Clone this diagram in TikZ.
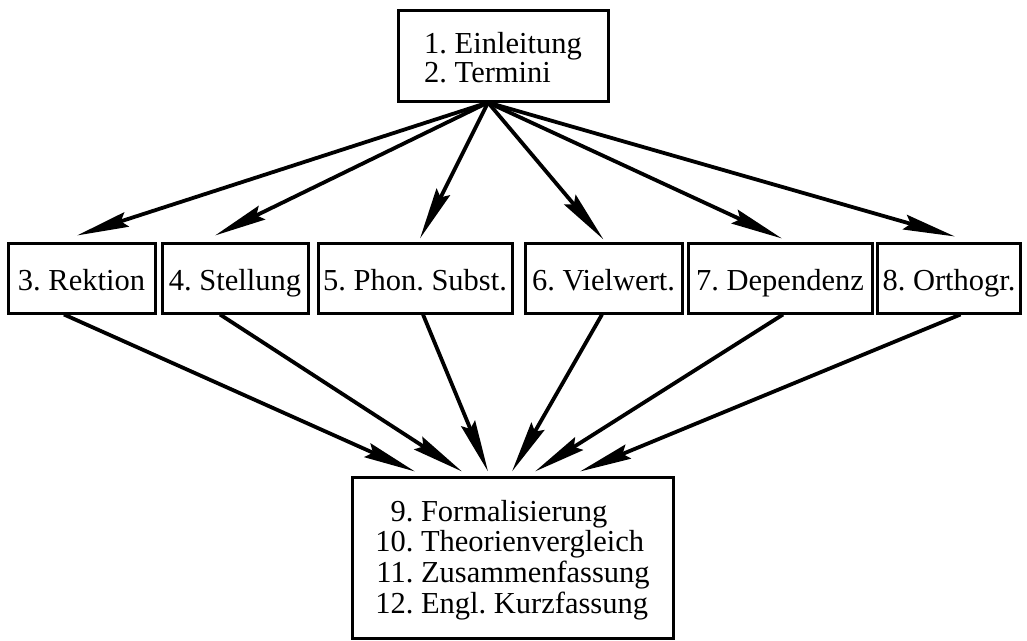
\documentclass[tikz,border=0pt]{standalone}
\usepackage{fontspec}
\setmainfont{Liberation Serif}
\usetikzlibrary{arrows.meta}
\frenchspacing
\begin{document}
\begin{tikzpicture}[x=1pt,y=-1pt,
  box/.style={draw=black,line width=3pt,rectangle,inner sep=0pt,
    font=\fontsize{30.5}{29}\selectfont\frenchspacing},
  midbox/.style={box,minimum height=70pt,text height=24pt,text depth=0pt},
  arr/.style={line width=3.8pt,-{Stealth[length=52pt,width=15pt,inset=6pt]}}]
\useasboundingbox (0,0) rectangle (1027,640);

\node[box,minimum width=210pt,minimum height=91pt,text height=53pt,text depth=0pt] (top) at (503,55.5)
  {\begin{tabular}[b]{@{}l@{}}1. Einleitung\\2. Termini\end{tabular}};

\node[midbox,minimum width=147pt] (b3) at (81.5,278) {3. Rektion};
\node[midbox,minimum width=146pt] (b4) at (235,278) {4. Stellung};
\node[midbox,minimum width=194pt] (b5) at (415,278) {5. Phon. Subst.};
\node[midbox,minimum width=157pt] (b6) at (603.5,278) {6. Vielwert.};
\node[midbox,minimum width=184pt] (b7) at (780,278) {7. Dependenz};
\node[midbox,minimum width=143pt] (b8) at (949,278) {8. Orthogr.};

\node[box,minimum width=321pt,minimum height=161pt,text height=111pt,text depth=0pt,
  font=\fontsize{30.5}{30.3}\selectfont\frenchspacing] (bot) at (512.5,557.5)
  {\begin{tabular}[b]{@{}r@{\ }l@{}}9.&Formalisierung\\10.&Theorienvergleich\\11.&Zusammenfassung\\12.&Engl. Kurzfassung\end{tabular}};

\draw[arr] ([xshift=-15pt]top.south) -- ([xshift=-4.5pt,yshift=6pt]b3.north);
\draw[arr] ([xshift=-15pt]top.south) -- ([xshift=-20pt,yshift=6pt]b4.north);
\draw[arr] ([xshift=-15pt]top.south) -- ([xshift=5pt,yshift=3pt]b5.north);
\draw[arr] ([xshift=-15pt]top.south) -- ([xshift=0pt,yshift=2pt]b6.north);
\draw[arr] ([xshift=-15pt]top.south) -- ([xshift=2pt,yshift=3pt]b7.north);
\draw[arr] ([xshift=-15pt]top.south) -- ([xshift=6pt,yshift=5pt]b8.north);

\draw[arr] ([xshift=-17.5pt]b3.south) -- ([xshift=-97.5pt,yshift=4pt]bot.north);
\draw[arr] ([xshift=-15pt]b4.south) -- ([xshift=-50.5pt,yshift=4pt]bot.north);
\draw[arr] ([xshift=8pt]b5.south) -- ([xshift=-24.5pt,yshift=4pt]bot.north);
\draw[arr] ([xshift=-1.5pt]b6.south) -- ([xshift=-0.5pt,yshift=4pt]bot.north);
\draw[arr] ([xshift=3pt]b7.south) -- ([xshift=22.5pt,yshift=4pt]bot.north);
\draw[arr] ([xshift=11.5pt]b8.south) -- ([xshift=67.5pt,yshift=4pt]bot.north);
\end{tikzpicture}
\end{document}
